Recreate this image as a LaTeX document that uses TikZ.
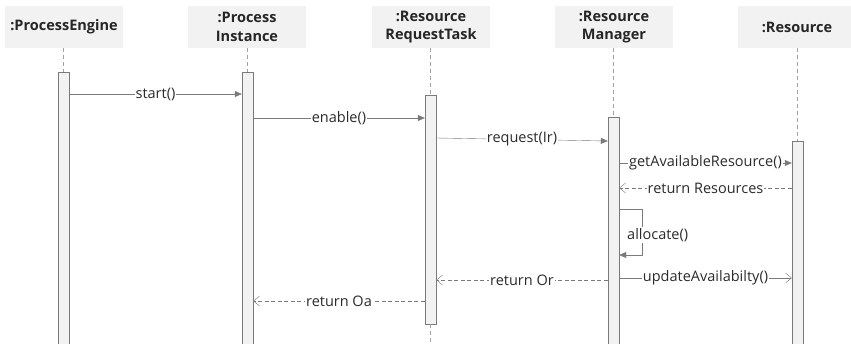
\documentclass[tikz,border=0pt]{standalone}
\usepackage{fontspec}
\setmainfont{Open Sans}
\usetikzlibrary{arrows.meta, positioning}
\definecolor{linegray}{HTML}{7A7A7A}
\definecolor{boxfill}{HTML}{F2F2F2}
\definecolor{txtgray}{HTML}{2B2B2B}

\begin{document}
\begin{tikzpicture}[x=1pt, y=-1pt, font=\fontsize{14.5}{17}\selectfont,
    head/.style={fill=boxfill, minimum width=118pt, minimum height=42pt, align=center, inner sep=0pt,
      font=\fontsize{14.5}{18.5}\selectfont\bfseries, text=black!85},
    bar/.style={draw=linegray, fill=boxfill, minimum width=11pt, inner sep=0pt, anchor=north},
    life/.style={draw=linegray!70, dash pattern=on 4pt off 3pt},
    msg/.style={draw=linegray, -{Triangle[length=7pt,width=6pt]}},
    ret/.style={draw=linegray, dash pattern=on 4pt off 2.5pt, -{Straight Barb[length=6pt,width=10pt]}},
    lbl/.style={fill=white, inner sep=1pt, text=txtgray}]
  \useasboundingbox (0,0) rectangle (851,343);
  % heads
  \node[head] (eng) at (64,27)  {:ProcessEngine};
  \node[head] (ins) at (247,27) {:Process\\Instance};
  \node[head] (tsk) at (431,27) {:Resource\\RequestTask};
  \node[head] (mgr) at (614,27) {:Resource\\Manager};
  \node[head] (res) at (797,27) {:Resource};
  % activation bars
  \node[bar, minimum height=285pt] (b1) at (63.5,72)  {};
  \node[bar, minimum height=285pt] (b2) at (247.5,72) {};
  \node[bar, minimum height=229pt] (b3) at (430.5,95) {};
  \node[bar, minimum height=240pt] (b4) at (613.5,117) {};
  \node[bar, minimum height=216pt] (b5) at (797.5,141) {};
  \coordinate (t3) at (430.5,343);
  % lifelines
  \draw[life] (eng.south -| b1.north) -- (b1.north);
  \draw[life] (ins.south -| b2.north) -- (b2.north);
  \draw[life] (tsk.south -| b3.north) -- (b3.north);
  \draw[life] (b3.south) -- (t3);
  \draw[life] (mgr.south -| b4.north) -- (b4.north);
  \draw[life] (res.south -| b5.north) -- (b5.north);
  % messages
  \draw[msg] (b1.east |- 0,94) -- node[lbl] {start()} (b2.west |- 0,94);
  \draw[msg] (b2.east |- 0,118) -- node[lbl] {enable()} (b3.west |- 0,118);
  \draw[msg] (b3.east |- 0,138) -- node[lbl] {request(Ir)} (b4.west |- 0,141);
  \draw[msg] (b4.east |- 0,163) -- node[lbl] {getAvailableResource()} (b5.west |- 0,163);
  \draw[ret] (b5.west |- 0,188) -- node[lbl] {return Resources} (b4.east |- 0,188);
  \draw[msg] (b4.east |- 0,209) -- ++(23,0) |- (b4.east |- 0,255);
  \node[lbl, anchor=west] (alloc) at (626,235) {allocate()};
  \draw[ret] (b4.west |- 0,280) -- node[lbl] {return Or} (b3.east |- 0,280);
  \draw[msg, -{Straight Barb[length=6pt,width=10pt]}] (b4.east |- 0,278) -- node[lbl] {updateAvailabilty()} (b5.west |- 0,278);
  \draw[ret] (b3.west |- 0,301) -- node[lbl] {return Oa} (b2.east |- 0,301);
\end{tikzpicture}
\end{document}
